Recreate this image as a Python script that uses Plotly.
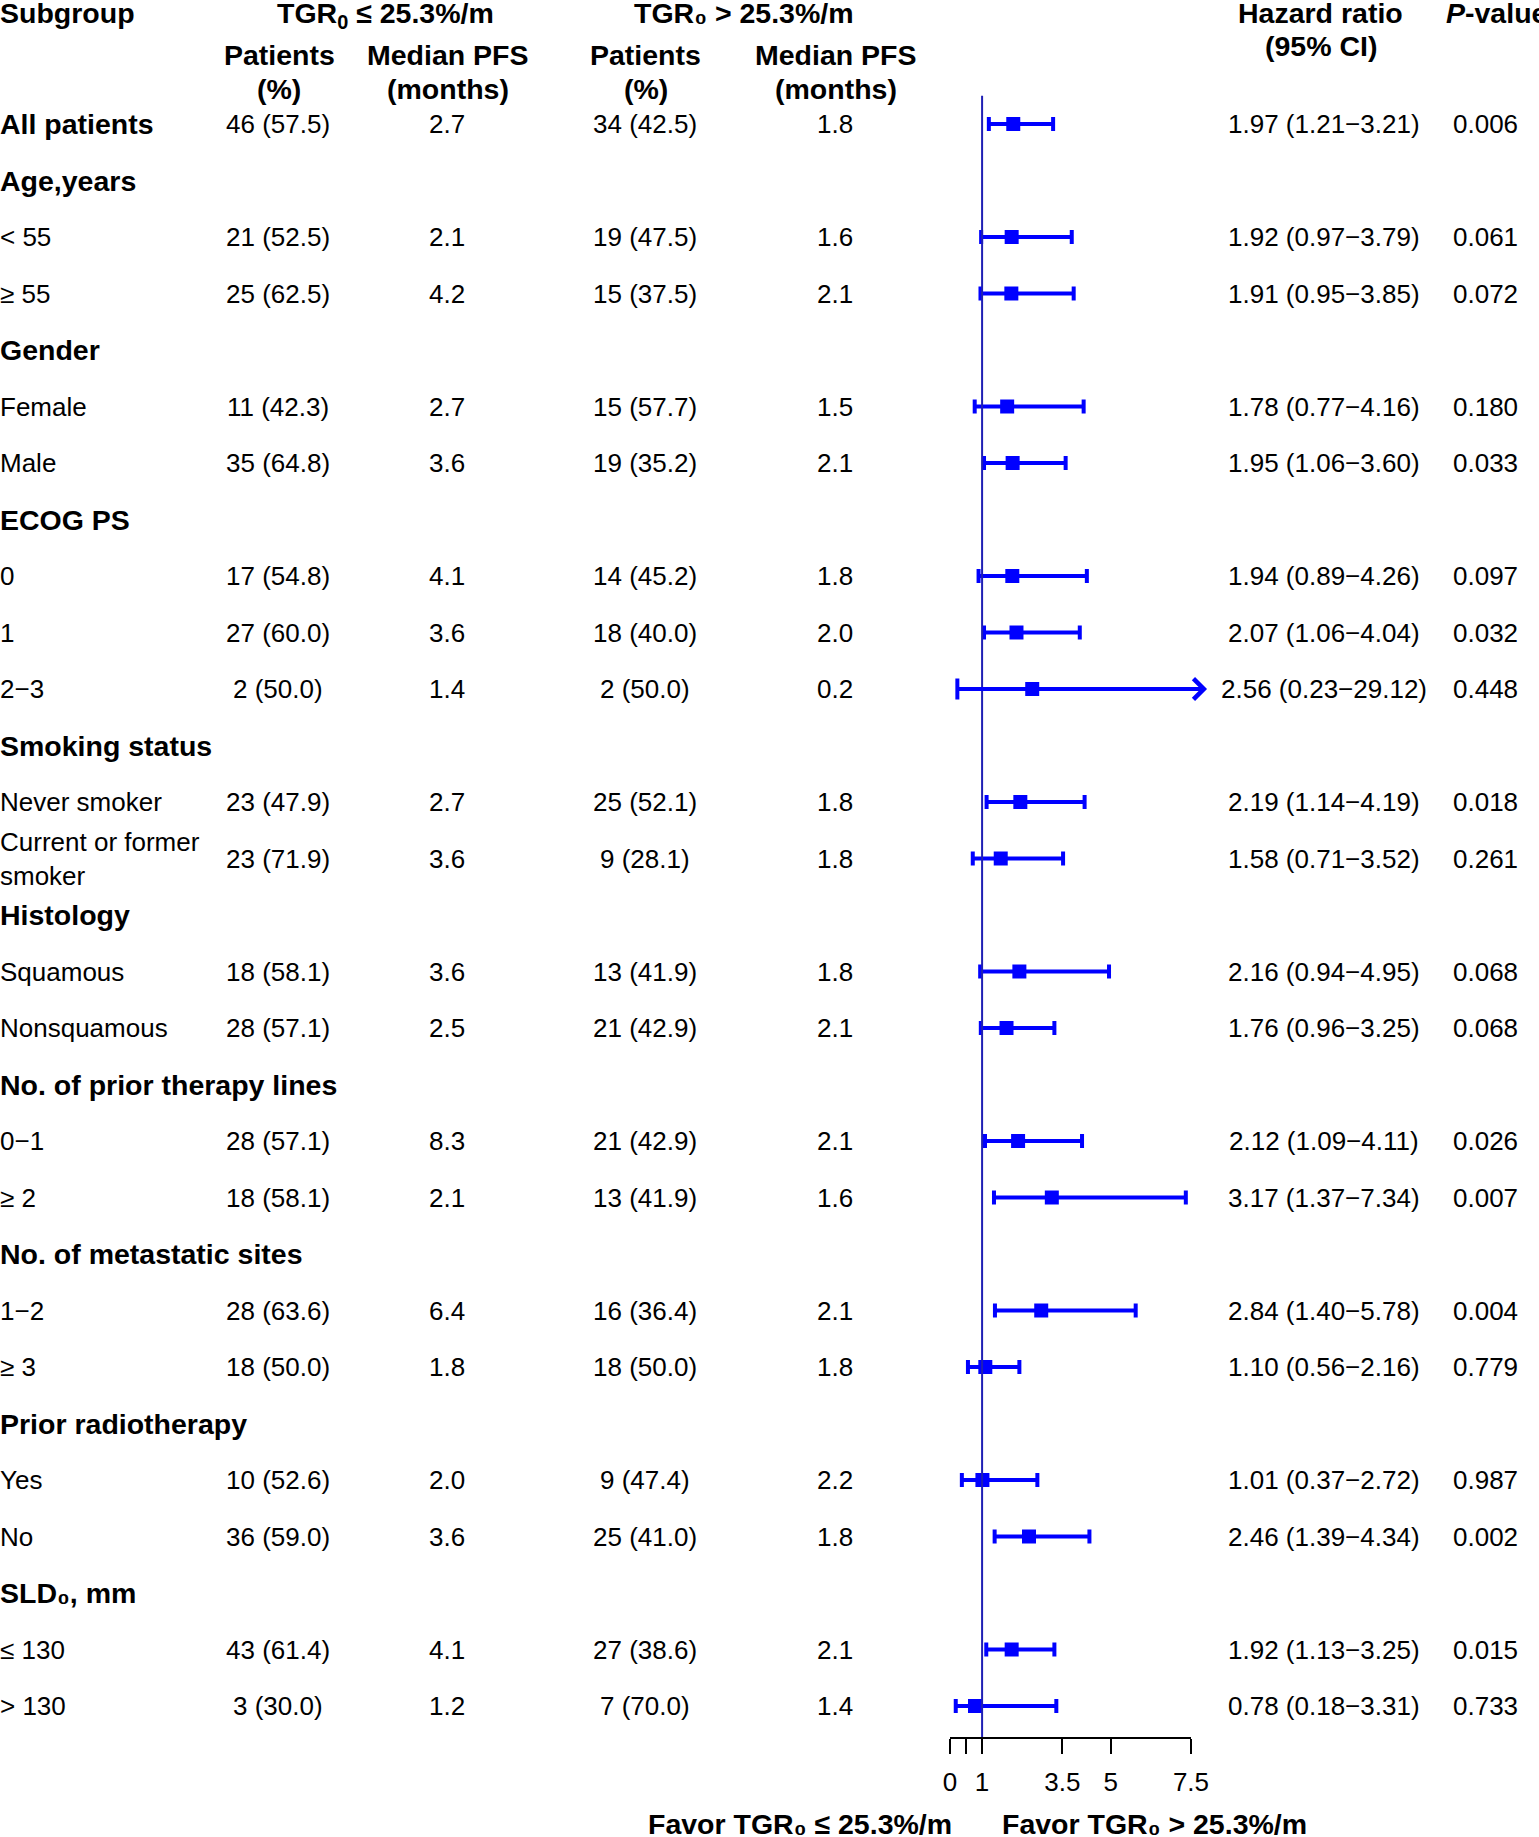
import plotly.graph_objects as go

# ---- data ----
subgroups = ["All patients", "Age,years", "< 55", "≥ 55", "Gender", "Female", "Male",
             "ECOG PS", "0", "1", "2−3", "Smoking status", "Never smoker",
             "Current or former<br>smoker", "Histology", "Squamous", "Nonsquamous",
             "No. of prior therapy lines", "0−1", "≥ 2", "No. of metastatic sites",
             "1−2", "≥ 3", "Prior radiotherapy", "Yes", "No", "SLD₀, mm", "≤ 130", "> 130"]
bold_rows = [True, True, False, False, True, False, False,
             True, False, False, False, True, False,
             False, True, False, False,
             True, False, False, True,
             False, False, True, False, False, True, False, False]

n_low = [46, None, 21, 25, None, 11, 35, None, 17, 27, 2, None, 23, 23, None, 18, 28,
         None, 28, 18, None, 28, 18, None, 10, 36, None, 43, 3]
pct_low = [57.5, None, 52.5, 62.5, None, 42.3, 64.8, None, 54.8, 60.0, 50.0, None, 47.9, 71.9,
           None, 58.1, 57.1, None, 57.1, 58.1, None, 63.6, 50.0, None, 52.6, 59.0, None, 61.4, 30.0]
pfs_low = [2.7, None, 2.1, 4.2, None, 2.7, 3.6, None, 4.1, 3.6, 1.4, None, 2.7, 3.6,
           None, 3.6, 2.5, None, 8.3, 2.1, None, 6.4, 1.8, None, 2.0, 3.6, None, 4.1, 1.2]
n_high = [34, None, 19, 15, None, 15, 19, None, 14, 18, 2, None, 25, 9, None, 13, 21,
          None, 21, 13, None, 16, 18, None, 9, 25, None, 27, 7]
pct_high = [42.5, None, 47.5, 37.5, None, 57.7, 35.2, None, 45.2, 40.0, 50.0, None, 52.1, 28.1,
            None, 41.9, 42.9, None, 42.9, 41.9, None, 36.4, 50.0, None, 47.4, 41.0, None, 38.6, 70.0]
pfs_high = [1.8, None, 1.6, 2.1, None, 1.5, 2.1, None, 1.8, 2.0, 0.2, None, 1.8, 1.8,
            None, 1.8, 2.1, None, 2.1, 1.6, None, 2.1, 1.8, None, 2.2, 1.8, None, 2.1, 1.4]
hr = [1.97, None, 1.92, 1.91, None, 1.78, 1.95, None, 1.94, 2.07, 2.56, None, 2.19, 1.58,
      None, 2.16, 1.76, None, 2.12, 3.17, None, 2.84, 1.10, None, 1.01, 2.46, None, 1.92, 0.78]
ci_low = [1.21, None, 0.97, 0.95, None, 0.77, 1.06, None, 0.89, 1.06, 0.23, None, 1.14, 0.71,
          None, 0.94, 0.96, None, 1.09, 1.37, None, 1.40, 0.56, None, 0.37, 1.39, None, 1.13, 0.18]
ci_high = [3.21, None, 3.79, 3.85, None, 4.16, 3.60, None, 4.26, 4.04, 29.12, None, 4.19, 3.52,
           None, 4.95, 3.25, None, 4.11, 7.34, None, 5.78, 2.16, None, 2.72, 4.34, None, 3.25, 3.31]
p_values = ["0.006", None, "0.061", "0.072", None, "0.180", "0.033", None, "0.097", "0.032",
            "0.448", None, "0.018", "0.261", None, "0.068", "0.068", None, "0.026", "0.007",
            None, "0.004", "0.779", None, "0.987", "0.002", None, "0.015", "0.733"]

tick_vals = [0, 0.5, 1, 3.5, 5, 7.5]
tick_text = ["0", "", "1", "3.5", "5", "7.5"]

# ---- layout constants, in target picture pixels ----
W, H = 1539, 1837
SX = 0.98                    # horizontal squeeze seen in the photographed page
SHIFT = 9                    # and its left offset
FW = round(W / SX) + 2
ROW0, STEP, AXIS_Y = 124, 56.5, 1737
X_MAX, ARROW_END = 7.5, 8.0
FONT = "Liberation Sans, Arial, sans-serif"
BLUE = "#0000FF"
REG, BOLD = 26, 28.5

col_x = {"n_low": 279, "pfs_low": 447, "n_high": 644, "pfs_high": 834, "hr": 1320, "p": 1481}


def px(x):
    return (x / SX) / FW


def py(y):
    return 1 - y / H


fig = go.Figure()

rows = [i for i, v in enumerate(hr) if v is not None]
clipped = [i for i in rows if ci_high[i] > X_MAX]
normal = [i for i in rows if i not in clipped]

# confidence intervals (capped)
fig.add_trace(go.Scatter(
    x=[hr[i] for i in normal], y=normal, mode="markers",
    marker=dict(size=1, color="rgba(0,0,0,0)"),
    error_x=dict(type="data", symmetric=False,
                 array=[ci_high[i] - hr[i] for i in normal],
                 arrayminus=[hr[i] - ci_low[i] for i in normal],
                 color=BLUE, thickness=4, width=7),
    cliponaxis=False, showlegend=False, hoverinfo="skip"))

# truncated intervals: left cap + arrow
fig.add_trace(go.Scatter(
    x=[ci_low[i] for i in clipped], y=clipped, mode="markers",
    marker=dict(symbol="line-ns-open", size=15, color=BLUE,
                line=dict(color=BLUE, width=4)),
    cliponaxis=False, showlegend=False, hoverinfo="skip"))
for i in clipped:
    fig.add_annotation(x=ARROW_END, y=i, ax=ci_low[i], ay=i, xref="x", yref="y",
                       axref="x", ayref="y", text="", showarrow=True, arrowhead=4,
                       arrowsize=1.0, arrowwidth=4, arrowcolor=BLUE)

# hazard ratio squares
fig.add_trace(go.Scatter(
    x=[hr[i] for i in rows], y=rows, mode="markers",
    marker=dict(symbol="square", size=14, color=BLUE),
    cliponaxis=False, showlegend=False, hoverinfo="skip"))

# reference line at HR = 1
y_bottom = (AXIS_Y - ROW0) / STEP
fig.add_trace(go.Scatter(
    x=[1, 1], y=[-0.5, y_bottom], mode="lines",
    line=dict(color="#1f1fb4", width=2),
    cliponaxis=False, showlegend=False, hoverinfo="skip"))


def txt(text, x, y, size=REG, anchor="center", yref="y", bold=False, align="center"):
    if bold:
        text = "<b>" + text.replace("<br>", "</b><br><b>") + "</b>"
    fig.add_annotation(text=text, x=x, y=y, xref="paper", yref=yref, xanchor=anchor,
                       yanchor="middle", showarrow=False, align=align,
                       font=dict(family=FONT, size=size, color="black"))


# table rows
for i, lab in enumerate(subgroups):
    txt(lab, 0, i, size=BOLD if bold_rows[i] else REG, anchor="left",
        bold=bold_rows[i], align="left")
    if hr[i] is None:
        continue
    txt(f"{n_low[i]} ({pct_low[i]:.1f})", px(col_x["n_low"]), i)
    txt(f"{pfs_low[i]:.1f}", px(col_x["pfs_low"]), i)
    txt(f"{n_high[i]} ({pct_high[i]:.1f})", px(col_x["n_high"]), i)
    txt(f"{pfs_high[i]:.1f}", px(col_x["pfs_high"]), i)
    txt(f"{hr[i]:.2f} ({ci_low[i]:.2f}−{ci_high[i]:.2f})", px(col_x["hr"]), i)
    txt(p_values[i], px(col_x["p"]), i)

# headers
txt("Subgroup", 0, py(13), size=BOLD, anchor="left", yref="paper", bold=True)
txt("TGR<sub>0</sub> ≤ 25.3%/m", px(386), py(15), size=BOLD, yref="paper", bold=True)
txt("TGR₀ > 25.3%/m", px(743), py(13), size=BOLD, yref="paper", bold=True)
for key in ("n_low", "n_high"):
    txt("Patients", px(col_x[key] + 1), py(55), size=BOLD, yref="paper", bold=True)
    txt("(%)", px(col_x[key] + 1), py(89), size=BOLD, yref="paper", bold=True)
for key in ("pfs_low", "pfs_high"):
    txt("Median PFS", px(col_x[key] + 1), py(55), size=BOLD, yref="paper", bold=True)
    txt("(months)", px(col_x[key] + 1), py(89), size=BOLD, yref="paper", bold=True)
txt("Hazard ratio", px(1317), py(13), size=BOLD, yref="paper", bold=True)
txt("(95% CI)", px(1317), py(46), size=BOLD, yref="paper", bold=True)
txt("<i>P</i>-value", px(1440), py(13), size=BOLD, anchor="left", yref="paper", bold=True)

# favour labels
txt("Favor TGR₀ ≤ 25.3%/m", px(799), py(1824), size=BOLD, yref="paper", bold=True)
txt("Favor TGR₀ > 25.3%/m", px(1152), py(1824), size=BOLD, yref="paper", bold=True)

fig.update_layout(
    width=FW, height=H, margin=dict(l=0, r=0, t=0, b=0), autosize=False,
    paper_bgcolor="white", plot_bgcolor="white",
    font=dict(family=FONT, size=REG, color="black"),
    xaxis=dict(domain=[px(948), px(1188)], range=[0, X_MAX], tickvals=tick_vals,
               ticktext=tick_text, ticks="outside", ticklen=15, tickwidth=2,
               tickcolor="black", showline=True, linecolor="black", linewidth=2,
               showgrid=False, zeroline=False, ticklabelstandoff=6,
               tickfont=dict(family=FONT, size=REG, color="black")),
    yaxis=dict(domain=[py(AXIS_Y), 1], range=[y_bottom, -ROW0 / STEP],
               visible=False, showgrid=False, zeroline=False),
)

# drop the default page margin and shift so the figure lines up with the window
fig.write_html("out.html", config={"responsive": False, "displayModeBar": False},
               post_script="document.body.style.margin='0';"
                           f"document.body.style.marginLeft='-{SHIFT}px';"
                           "document.documentElement.style.overflow='hidden';")
